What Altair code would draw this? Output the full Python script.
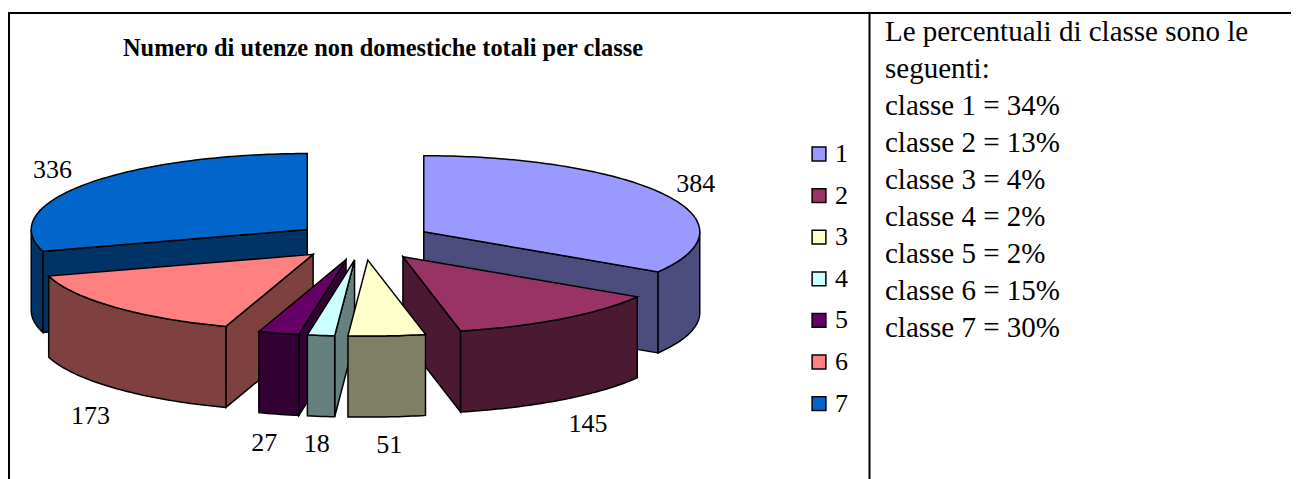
import math
import altair as alt

classes = ["1", "2", "3", "4", "5", "6", "7"]
values = [384, 145, 51, 18, 27, 173, 336]
top_colors = ["#9999FF", "#993366", "#FFFFCC", "#CCFFFF", "#660066", "#FF8080", "#0066CC"]
wall_colors = ["#4C4C7F", "#4C1933", "#7F7F66", "#667F7F", "#330033", "#7F4040", "#003366"]
title_text = "Numero di utenze non domestiche totali per classe"
note_lines = [
    "Le percentuali di classe sono le",
    "seguenti:",
    "classe 1 = 34%",
    "classe 2 = 13%",
    "classe 3 = 4%",
    "classe 4 = 2%",
    "classe 5 = 2%",
    "classe 6 = 15%",
    "classe 7 = 30%",
]

# 3D pie geometry, in pixels around the pie centre (y upwards)
RX, RY, DEPTH, EXPLODE = 276.0, 76.0, 81.0, 69.5
CX, CY = 363.0, 241.0
draw_order = [6, 0, 5, 1, 4, 3, 2]
# small label shifts (dx, dy on screen) by class
label_shift = [(1, 2), (7, -4), (0, 0), (0, 0), (-6, 1), (0, 0), (-6, 1.5)]


def rim(a):
    return (RX * math.sin(a), RY * math.cos(a))


def feature(points, key):
    ring = [[round(x, 2), round(y, 2)] for x, y in points]
    ring.append(ring[0])
    return {"type": "Feature", "properties": {"key": key},
            "geometry": {"type": "Polygon", "coordinates": [ring]}}


total = sum(values)
spans = []
cum = 0
for v in values:
    spans.append((cum / total * 2 * math.pi, (cum + v) / total * 2 * math.pi))
    cum += v

features = []
labels = []
for i in draw_order:
    s, e = spans[i]
    mid = (s + e) / 2
    ox = EXPLODE * math.sin(mid)
    oy = EXPLODE * math.cos(mid) * RY / RX
    n = max(2, int(math.degrees(e - s)) + 1)
    angs = [s + (e - s) * k / n for k in range(n + 1)]
    top = [(ox + rim(a)[0], oy + rim(a)[1]) for a in angs]
    apex = (ox, oy)
    wall_key = classes[i] + "w"
    # cut faces facing the viewer
    if math.sin(s) < 0:
        p = (ox + rim(s)[0], oy + rim(s)[1])
        features.append(feature([apex, p, (p[0], p[1] - DEPTH), (apex[0], apex[1] - DEPTH)], wall_key))
    if math.sin(e) > 0:
        p = (ox + rim(e)[0], oy + rim(e)[1])
        features.append(feature([apex, p, (p[0], p[1] - DEPTH), (apex[0], apex[1] - DEPTH)], wall_key))
    # outer wall: the part of the rim on the front half
    front = [a for a in angs if math.cos(a) < 0]
    if front:
        a0 = max(s, math.pi / 2)
        a1 = min(e, 3 * math.pi / 2)
        arc = [a0] + [a for a in front if a0 < a < a1] + [a1]
        upper = [(ox + rim(a)[0], oy + rim(a)[1]) for a in arc]
        lower = [(x, y - DEPTH) for x, y in reversed(upper)]
        features.append(feature(upper + lower, wall_key))
    features.append(feature([apex] + top, classes[i]))
    # value label, just outside the slice rim
    lx = ox + rim(mid)[0] + 34 * math.sin(mid) + label_shift[i][0]
    ly = oy + rim(mid)[1] - label_shift[i][1]
    ly += 26 * math.cos(mid) if math.cos(mid) > 0 else -DEPTH - 28
    labels.append({"lon": lx, "lat": ly, "value": values[i]})

projection = dict(type="identity", reflectY=True, scale=1, translate=[CX - 8, CY - 8])
SERIF = "Liberation Serif"

pie = (
    alt.Chart(alt.InlineData(values={"type": "FeatureCollection", "features": features},
                             format=alt.DataFormat(type="json", property="features")))
    .mark_geoshape(stroke="black", strokeWidth=1.5, strokeJoin="miter")
    .encode(
        fill=alt.Fill(
            "properties.key:N",
            sort=None,
            scale=alt.Scale(domain=classes + [c + "w" for c in classes], range=top_colors + wall_colors),
            legend=alt.Legend(
                values=classes, title=None, orient="none", legendX=798, legendY=133,
                symbolType="square", symbolSize=190, symbolStrokeColor="black", symbolStrokeWidth=1.5,
                labelFont=SERIF, labelFontSize=26, labelColor="black", labelOffset=3, rowPadding=15.6,
                padding=0,
            ),
        )
    )
    .project(**projection)
)

value_labels = (
    alt.Chart(alt.Data(values=labels))
    .mark_text(font=SERIF, fontSize=26, color="black", align="center", baseline="middle")
    .encode(longitude="lon:Q", latitude="lat:Q", text="value:Q")
    .project(**projection)
)

note = (
    alt.Chart(alt.Data(values=[{"t": "\n".join(note_lines)}]))
    .mark_text(font=SERIF, fontSize=29, color="black", align="left", baseline="top",
               lineBreak="\n", lineHeight=37)
    .encode(x=alt.value(877), y=alt.value(10), text="t:N")
)

frame = alt.Chart(alt.Data(values=[{"a": 0}])).mark_rule(color="black", strokeWidth=2)
frame_top = frame.encode(x=alt.value(0), x2=alt.value(1283), y=alt.value(5))
frame_left = frame.encode(x=alt.value(1), y=alt.value(4), y2=alt.value(471))
frame_mid = frame.encode(x=alt.value(861.5), y=alt.value(4), y2=alt.value(471))

chart = (
    alt.layer(frame_top, frame_left, frame_mid, pie, value_labels, note)
    .properties(
        width=1283, height=471, padding=0,
        autosize=alt.AutoSizeParams(type="none"),
        title=alt.TitleParams(title_text, anchor="start", frame="group", dx=115, offset=-53,
                              font=SERIF, fontSize=24.4, fontWeight="bold", color="black"),
    )
    .configure_view(stroke=None)
)

chart.save("out.html", embed_options={"renderer": "svg", "actions": False})
